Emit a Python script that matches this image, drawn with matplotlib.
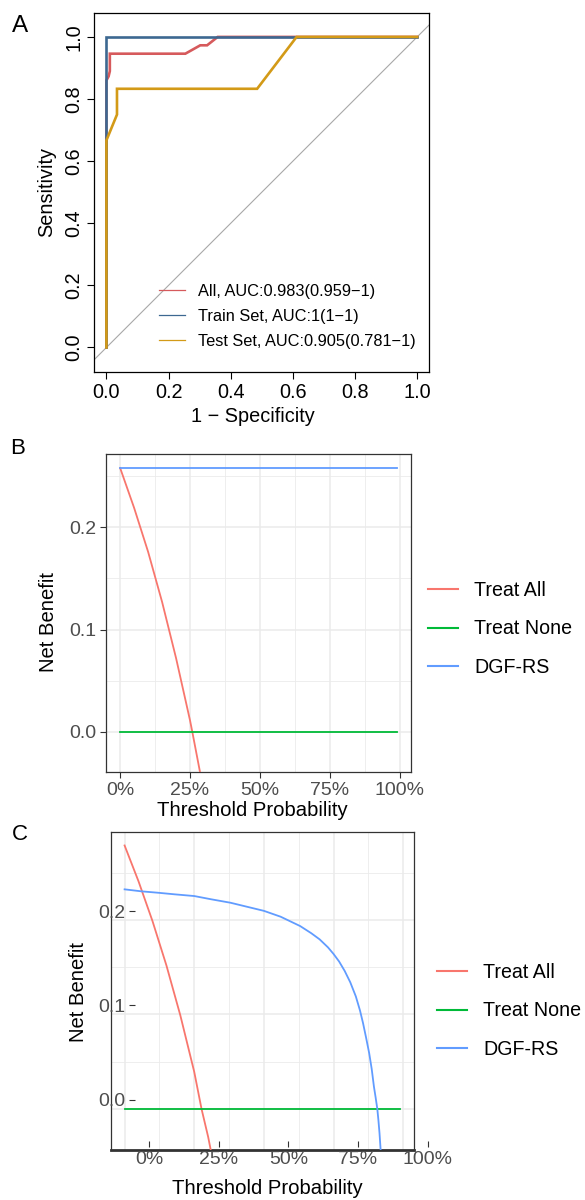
#!/usr/bin/env python3

import numpy as np
import matplotlib
matplotlib.use("Agg")
import matplotlib.pyplot as plt
from matplotlib.ticker import FixedLocator, PercentFormatter, FormatStrFormatter


# =====================================================
# DATA
# =====================================================

# Panel A - ROC curves
ROC_ALL_FPR = [0.0, 0.0, 0.007, 0.011, 0.011, 0.254, 0.302, 0.324, 0.358, 1.0]
ROC_ALL_TPR = [0.0, 0.86, 0.873, 0.89, 0.946, 0.946, 0.973, 0.973, 1.0, 1.0]

ROC_TRAIN_FPR = [0.0, 0.0, 1.0]
ROC_TRAIN_TPR = [0.0, 1.0, 1.0]

ROC_TEST_FPR = [0.0, 0.0, 0.034, 0.034, 0.485, 0.612, 1.0]
ROC_TEST_TPR = [0.0, 0.667, 0.75, 0.833, 0.833, 1.0, 1.0]

ROC_LABELS = [
    "All, AUC:0.983(0.959\u22121)",
    "Train Set, AUC:1(1\u22121)",
    "Test Set, AUC:0.905(0.781\u22121)",
]

# Panel B - decision curve, training set
B_THR_ALL = [0.0, 0.05, 0.10, 0.15, 0.20, 0.25, 0.258, 0.30]
B_NB_ALL = [0.258, 0.219, 0.176, 0.127, 0.072, 0.011, 0.0, -0.060]
B_THR_LINE = [0.0, 0.99]
B_NB_NONE = [0.0, 0.0]
B_NB_MODEL = [0.258, 0.258]

# Panel C - decision curve, test set
C_THR_ALL = [0.0, 0.05, 0.10, 0.15, 0.20, 0.25, 0.276, 0.30, 0.32]
C_NB_ALL = [0.279, 0.241, 0.199, 0.152, 0.099, 0.039, 0.0, -0.030, -0.060]
C_THR_NONE = [0.0, 0.99]
C_NB_NONE = [0.0, 0.0]
C_THR_MODEL = [0.0, 0.06, 0.12, 0.18, 0.25, 0.31, 0.38, 0.44, 0.50, 0.56,
               0.63, 0.67, 0.70, 0.73, 0.75, 0.77, 0.79, 0.81, 0.83, 0.845,
               0.856, 0.867, 0.878, 0.887, 0.895, 0.901, 0.907, 0.911,
               0.915, 0.92]
C_NB_MODEL = [0.2325, 0.2304, 0.2289, 0.2272, 0.2254, 0.222, 0.2183, 0.214,
              0.2097, 0.2035, 0.1936, 0.186, 0.1795, 0.171, 0.164, 0.156,
              0.146, 0.134, 0.119, 0.104, 0.0905, 0.075, 0.0587, 0.042,
              0.0233, 0.012, 0.0, -0.012, -0.026, -0.048]

DCA_LABELS = ["Treat All", "Treat None", "DGF-RS"]


# =====================================================
# STYLE
# =====================================================

W, H = 585, 1200
DPI = 100

plt.rcParams["font.family"] = ["Liberation Sans", "DejaVu Sans"]

ROC_COLORS = ["#D65A5C", "#3D6891", "#D39A17"]
DCA_COLORS = ["#F8766D", "#00BA38", "#619CFF"]

GRID_COLOR = "#EBEBEB"
TICK_TEXT = "#4D4D4D"
DARK = "#333333"

fig = plt.figure(figsize=(W / DPI, H / DPI), dpi=DPI)


def px_axes(left, top, right, bottom, **kw):
    return fig.add_axes([left / W, 1 - bottom / H,
                         (right - left) / W, (bottom - top) / H], **kw)


def fig_text(x, y, s, **kw):
    fig.text(x / W, 1 - y / H, s, **kw)


# =====================================================
# PANEL A - ROC
# =====================================================

ax_a = px_axes(94.3, 12.7, 429.3, 371.7)
ax_a.set_xlim(-0.039, 1.039)
ax_a.set_ylim(-0.078, 1.078)

ax_a.axline((0, 0), slope=1, color="#A8A8A8", lw=0.8, zorder=1)

roc_sets = [
    (ROC_ALL_FPR, ROC_ALL_TPR),
    (ROC_TRAIN_FPR, ROC_TRAIN_TPR),
    (ROC_TEST_FPR, ROC_TEST_TPR),
]
for (fpr, tpr), color, label in zip(roc_sets, ROC_COLORS, ROC_LABELS):
    ax_a.plot(fpr, tpr, color=color, lw=1.9, solid_joinstyle="miter",
              zorder=2)
    ax_a.plot([], [], color=color, lw=0.9, label=label)

ticks = [0.0, 0.2, 0.4, 0.6, 0.8, 1.0]
ax_a.xaxis.set_major_locator(FixedLocator(ticks))
ax_a.yaxis.set_major_locator(FixedLocator(ticks))
ax_a.xaxis.set_major_formatter(FormatStrFormatter("%.1f"))
ax_a.yaxis.set_major_formatter(FormatStrFormatter("%.1f"))
ax_a.tick_params(direction="out", length=5, width=0.8, labelsize=14.3,
                 color="black", labelcolor="black", pad=3)
plt.setp(ax_a.get_yticklabels(), rotation=90, va="center")
for s in ax_a.spines.values():
    s.set_linewidth(0.9)
    s.set_color("black")

ax_a.legend(loc="lower left", bbox_to_anchor=(0.175, 0.045), frameon=False,
            fontsize=11.8, handlelength=1.55, handletextpad=0.8,
            labelspacing=0.62, borderaxespad=0)

fig_text(20, 26, "A", fontsize=17.5, ha="center", va="center")
fig_text(46.5, 192, "Sensitivity", fontsize=14.3, rotation=90,
         ha="center", va="center")
fig_text(253, 416, "1 \u2212 Specificity", fontsize=14.3,
         ha="center", va="center")


# =====================================================
# DECISION CURVE HELPERS
# =====================================================

def style_dca(ax, ylim):
    ax.set_xlim(-0.0495, 1.0395)
    ax.set_ylim(ylim)
    ax.set_xticks([0, 0.25, 0.5, 0.75, 1.0])
    ax.set_xticks([0.125, 0.375, 0.625, 0.875], minor=True)
    ax.set_yticks([0.0, 0.1, 0.2])
    ax.set_yticks([0.05, 0.15, 0.25], minor=True)
    ax.grid(True, which="major", color=GRID_COLOR, lw=1.1, zorder=0)
    ax.grid(True, which="minor", color=GRID_COLOR, lw=0.6, zorder=0)
    ax.set_axisbelow(True)
    ax.xaxis.set_major_formatter(PercentFormatter(1.0, decimals=0))
    ax.yaxis.set_major_formatter(FormatStrFormatter("%.1f"))
    ax.tick_params(which="minor", length=0)
    ax.tick_params(which="major", direction="out", length=4.5, width=0.8,
                   color=DARK, labelcolor=TICK_TEXT, labelsize=14, pad=3)
    for s in ax.spines.values():
        s.set_color(DARK)
        s.set_linewidth(0.9)


def dca_legend(ax, x_px, y_px):
    handles = [plt.Line2D([], [], color=c, lw=1.5) for c in DCA_COLORS]
    ax.legend(handles, DCA_LABELS, loc="center left",
              bbox_to_anchor=(x_px / W, 1 - y_px / H),
              bbox_transform=fig.transFigure, frameon=False, fontsize=14.1,
              handlelength=1.55, handletextpad=0.8, labelspacing=0.985,
              borderaxespad=0, borderpad=0)


# =====================================================
# PANEL B
# =====================================================

ax_b = px_axes(106.3, 454, 410.8, 772)
style_dca(ax_b, (-0.0394, 0.2717))

ax_b.plot(B_THR_ALL, B_NB_ALL, color=DCA_COLORS[0], lw=1.3, zorder=3)
ax_b.plot(B_THR_LINE, B_NB_NONE, color=DCA_COLORS[1], lw=1.3, zorder=3)
ax_b.plot(B_THR_LINE, B_NB_MODEL, color=DCA_COLORS[2], lw=1.3, zorder=3)

dca_legend(ax_b, 428, 629)

fig_text(18, 448, "B", fontsize=16, ha="center", va="center")
fig_text(48.5, 622, "Net Benefit", fontsize=14.6, rotation=90,
         ha="center", va="center")
fig_text(252, 810, "Threshold Probability", fontsize=14.6,
         ha="center", va="center")


# =====================================================
# PANEL C
# =====================================================

C_BOX = (110.8, 831.7, 414.2, 1150)
ax_c = px_axes(*C_BOX)
style_dca(ax_c, (-0.0438, 0.2936))
ax_c.tick_params(which="both", length=0, labelbottom=False, labelleft=False)
ax_c.spines["bottom"].set_linewidth(2.0)

ax_c.plot(C_THR_ALL, C_NB_ALL, color=DCA_COLORS[0], lw=1.3, zorder=3)
ax_c.plot(C_THR_NONE, C_NB_NONE, color=DCA_COLORS[1], lw=1.3, zorder=3)
ax_c.plot(C_THR_MODEL, C_NB_MODEL, color=DCA_COLORS[2], lw=1.3, zorder=3)

# the tick marks and labels of panel C sit shifted against the grid
DX, DY = 24.5, -9
ax_c_ticks = px_axes(C_BOX[0] + DX, C_BOX[1] + DY, C_BOX[2] + DX,
                     C_BOX[3] + DY)
ax_c_ticks.patch.set_visible(False)
ax_c_ticks.set_xlim(ax_c.get_xlim())
ax_c_ticks.set_ylim(ax_c.get_ylim())
ax_c_ticks.set_xticks([0, 0.25, 0.5, 0.75, 1.0])
ax_c_ticks.set_yticks([0.0, 0.1, 0.2])
ax_c_ticks.xaxis.set_major_formatter(PercentFormatter(1.0, decimals=0))
ax_c_ticks.yaxis.set_major_formatter(FormatStrFormatter("%.1f"))
ax_c_ticks.tick_params(direction="out", length=4.5, width=0.8, color=DARK,
                       labelcolor=TICK_TEXT, labelsize=14, pad=3)
for s in ax_c_ticks.spines.values():
    s.set_visible(False)

dca_legend(ax_c, 437, 1011)

fig_text(19.5, 834.5, "C", fontsize=16, ha="center", va="center")
fig_text(78, 992, "Net Benefit", fontsize=14.6, rotation=90,
         ha="center", va="center")
fig_text(267, 1188, "Threshold Probability", fontsize=14.6,
         ha="center", va="center")

fig.savefig("out.png", dpi=DPI)
